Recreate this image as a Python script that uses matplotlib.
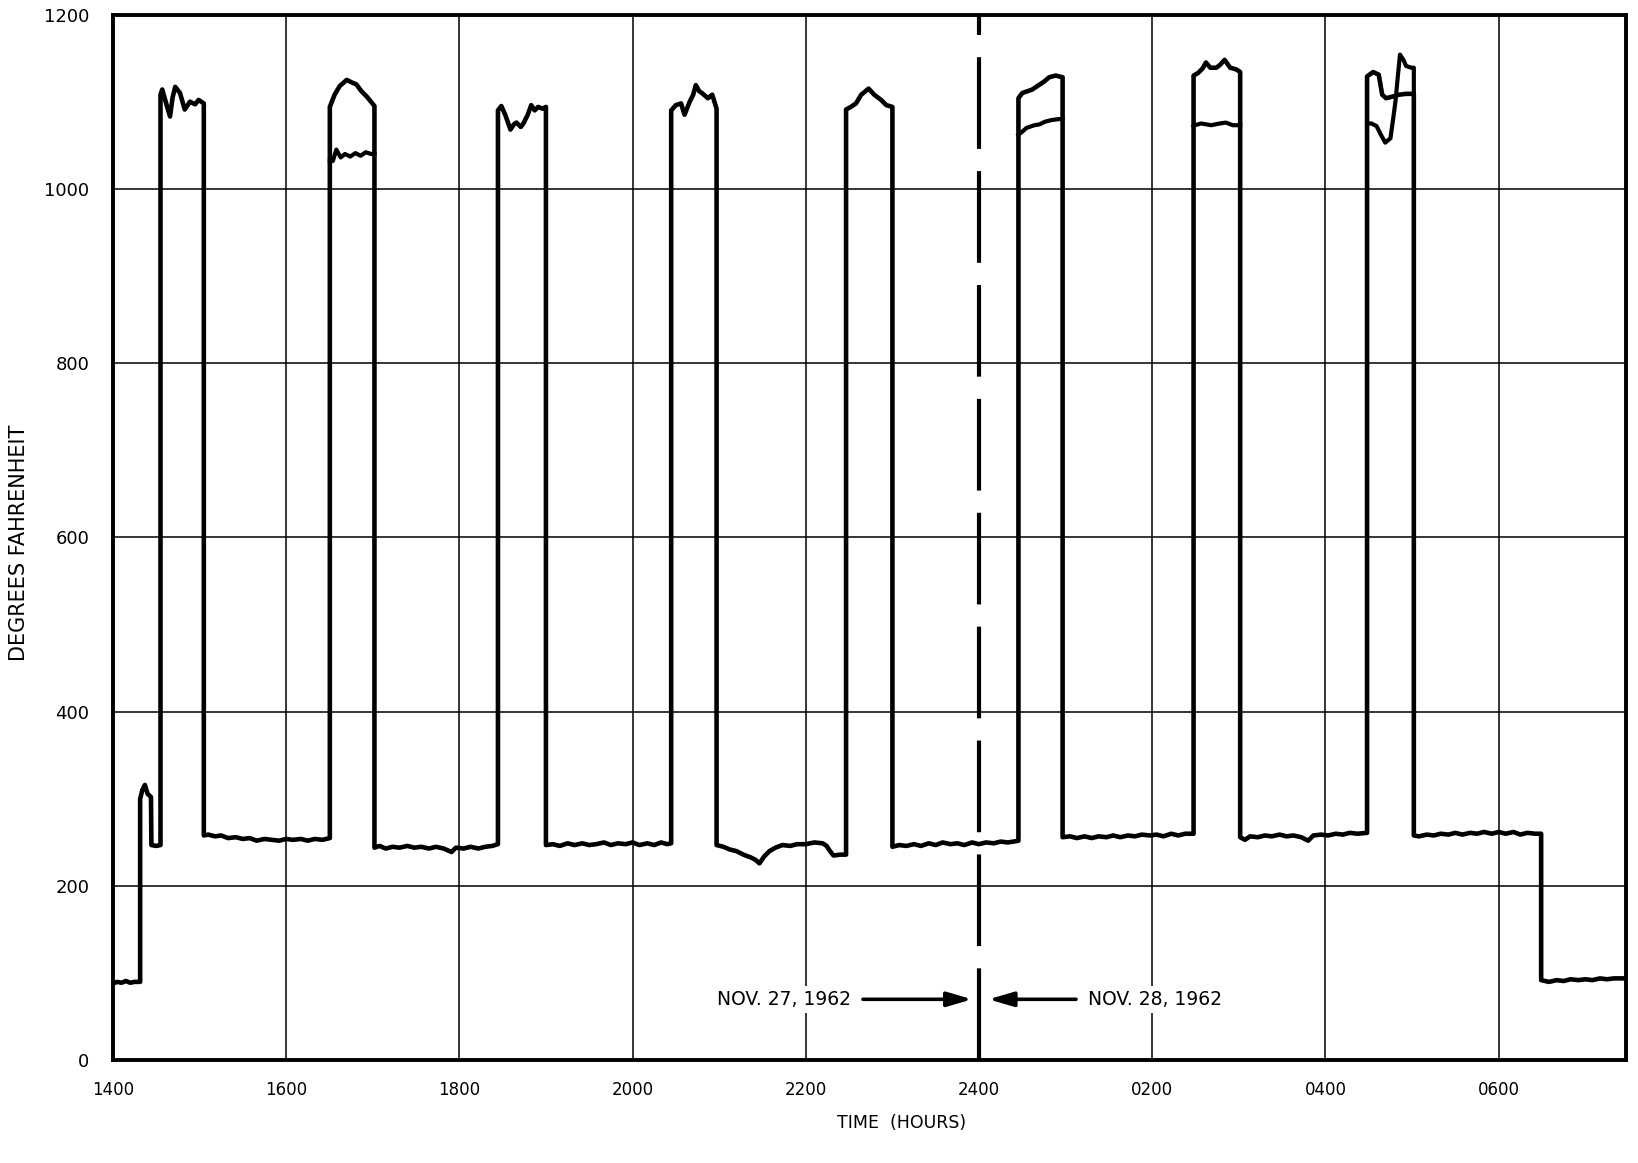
import numpy as np
import matplotlib
matplotlib.use("Agg")
import matplotlib.pyplot as plt

# main trace: hours since midnight Nov 27 (24 = 2400), degrees F
TIME_H = [
    14.00, 14.05, 14.10, 14.15, 14.20, 14.25, 14.315,
    14.315, 14.34, 14.37, 14.40, 14.44, 14.445, 14.50, 14.55,
    14.55, 14.57, 14.61, 14.66, 14.69, 14.72, 14.775, 14.83, 14.89, 14.95, 14.99, 15.05,
    15.05, 15.10, 15.18, 15.25, 15.33, 15.42, 15.50, 15.58, 15.66, 15.75, 15.83, 15.92,
    16.00, 16.08, 16.17, 16.25, 16.33, 16.42, 16.505,
    16.505, 16.56, 16.62, 16.70, 16.76, 16.81, 16.87, 16.93, 16.98, 17.02,
    17.02, 17.08, 17.15, 17.23, 17.31, 17.40, 17.48, 17.56, 17.65, 17.73, 17.82, 17.91,
    17.96, 18.05, 18.13, 18.22, 18.30, 18.38, 18.446,
    18.446, 18.485, 18.53, 18.59, 18.63, 18.66, 18.71, 18.74, 18.79, 18.83, 18.87, 18.91, 18.96, 19.00,
    19.00, 19.08, 19.16, 19.25, 19.33, 19.42, 19.50, 19.58, 19.67, 19.75, 19.83, 19.92,
    20.00, 20.08, 20.17, 20.25, 20.33, 20.40, 20.446,
    20.446, 20.50, 20.56, 20.60, 20.66, 20.70, 20.73, 20.77, 20.80, 20.87, 20.92, 20.97,
    20.97, 21.05, 21.12, 21.20, 21.28, 21.36, 21.42, 21.465, 21.52, 21.58, 21.65, 21.73,
    21.82, 21.90, 22.00, 22.10, 22.195, 22.24, 22.28, 22.32, 22.40, 22.465,
    22.465, 22.52, 22.58, 22.64, 22.725, 22.79, 22.87, 22.93, 23.00,
    23.00, 23.08, 23.16, 23.25, 23.33, 23.42, 23.50, 23.58, 23.67, 23.75, 23.83, 23.92,
    24.00, 24.08, 24.17, 24.25, 24.33, 24.40, 24.455,
    24.455, 24.50, 24.56, 24.615, 24.69, 24.75, 24.81, 24.885, 24.965,
    24.965, 25.05, 25.13, 25.22, 25.30, 25.38, 25.47, 25.55, 25.63, 25.72, 25.80, 25.88,
    25.97, 26.05, 26.13, 26.22, 26.30, 26.38, 26.477,
    26.477, 26.53, 26.58, 26.62, 26.67, 26.74, 26.78, 26.835, 26.90, 26.97, 27.015,
    27.015, 27.07, 27.13, 27.22, 27.30, 27.38, 27.47, 27.55, 27.63, 27.72, 27.80, 27.86,
    27.95, 28.03, 28.12, 28.20, 28.28, 28.37, 28.48,
    28.48, 28.55, 28.615, 28.655, 28.70, 28.78, 28.85, 28.93, 29.02,
    29.02, 29.08, 29.17, 29.25, 29.33, 29.42, 29.50, 29.58, 29.67, 29.75, 29.83, 29.92,
    30.00, 30.08, 30.17, 30.25, 30.33, 30.42, 30.49,
    30.49, 30.58, 30.67, 30.75, 30.83, 30.92, 31.00, 31.08, 31.17, 31.25, 31.33, 31.47,
]
TEMP_F = [
    88, 90, 89, 91, 89, 90, 90,
    300, 310, 316, 306, 302, 247, 246, 247,
    1108, 1114, 1100, 1083, 1105, 1117, 1110, 1091, 1100, 1097, 1102, 1098,
    258, 259, 257, 258, 255, 256, 254, 255, 252, 254, 253, 252,
    254, 253, 254, 252, 254, 253, 255,
    1094, 1108, 1118, 1125, 1122, 1120, 1112, 1106, 1100, 1095,
    244, 246, 243, 245, 244, 246, 244, 245, 243, 245, 243, 239,
    244, 243, 245, 243, 245, 246, 248,
    1090, 1095, 1085, 1068, 1074, 1076, 1071, 1075, 1085, 1096, 1090, 1094, 1092, 1094,
    247, 248, 246, 249, 247, 249, 247, 248, 250, 247, 249, 248,
    250, 247, 249, 247, 250, 248, 249,
    1090, 1096, 1098, 1085, 1100, 1108, 1119, 1112, 1110, 1104, 1108, 1092,
    247, 245, 242, 240, 236, 233, 230, 226, 234, 240, 244, 247,
    246, 248, 248, 250, 249, 246, 240, 235, 236, 236,
    1091, 1094, 1098, 1108, 1115, 1108, 1102, 1096, 1094,
    245, 247, 246, 248, 246, 249, 247, 250, 248, 249, 247, 250,
    248, 250, 249, 251, 250, 251, 252,
    1104, 1110, 1112, 1114, 1119, 1123, 1128, 1130, 1128,
    256, 257, 255, 257, 255, 257, 256, 258, 256, 258, 257, 259,
    258, 259, 257, 260, 258, 260, 260,
    1130, 1133, 1138, 1145, 1139, 1139, 1142, 1148, 1139, 1137, 1134,
    256, 253, 257, 256, 258, 257, 259, 257, 258, 256, 252, 258,
    259, 258, 260, 259, 261, 260, 261,
    1129, 1134, 1131, 1108, 1104, 1106, 1108, 1109, 1109,
    258, 257, 259, 258, 260, 259, 261, 259, 261, 260, 262, 260,
    262, 260, 262, 259, 261, 260, 260,
    92, 90, 92, 91, 93, 92, 93, 92, 94, 93, 94, 94,
]

# second thermocouple where it separates from the first (nan = gap)
SEC_TIME_H = [
    16.505, 16.54, 16.58, 16.63, 16.68, 16.74, 16.80, 16.86, 16.92, 16.98, 17.02, np.nan,
    24.455, 24.48, 24.55, 24.64, 24.70, 24.76, 24.84, 24.92, 24.965, np.nan,
    26.477, 26.49, 26.565, 26.68, 26.78, 26.85, 26.93, 27.015, np.nan,
    28.48, 28.53, 28.59, 28.64, 28.69, 28.75, 28.785, 28.81, 28.835, 28.86, 28.90, 28.93,
    28.99, 29.02, 29.02,
]
SEC_TEMP_F = [
    1032, 1032, 1045, 1036, 1040, 1037, 1041, 1038, 1042, 1040, 1040, np.nan,
    1062, 1064, 1070, 1073, 1074, 1077, 1079, 1080, 1080, np.nan,
    1072, 1073, 1075, 1073, 1075, 1076, 1073, 1073, np.nan,
    1075, 1075, 1072, 1062, 1053, 1058, 1083, 1102, 1129, 1154, 1148, 1141,
    1139, 1139, 1109,
]

X_TICKS = [14, 16, 18, 20, 22, 24, 26, 28, 30]
X_TICK_LABELS = ["1400", "1600", "1800", "2000", "2200", "2400", "0200", "0400", "0600"]
Y_TICKS = [0, 200, 400, 600, 800, 1000, 1200]
MIDNIGHT = 24

plt.rcParams['font.family'] = ['DejaVu Sans']
plt.rcParams['lines.scale_dashes'] = False

fig = plt.figure(figsize=(16.38, 11.63), dpi=100)
ax = fig.add_axes([0.0689, 0.0883, 0.9238, 0.8992])

# grid
for x in X_TICKS[1:]:
    if x != MIDNIGHT:
        ax.axvline(x, color='black', lw=1.1, zorder=1)
for y in Y_TICKS[1:-1]:
    ax.axhline(y, color='black', lw=1.1, zorder=1)

# midnight dashed line, drawn from the bottom up
ax.plot([MIDNIGHT, MIDNIGHT], [0, 1200], color='black', lw=3.0,
        dashes=(66, 16), solid_capstyle='butt', dash_capstyle='butt', zorder=2)

ax.plot(TIME_H, TEMP_F, color='black', lw=3.3, solid_joinstyle='round', zorder=4)
ax.plot(SEC_TIME_H, SEC_TEMP_F, color='black', lw=3.0, solid_joinstyle='round', zorder=4)

# date annotations
txt_kw = dict(fontsize=13.5, va='center', zorder=5,
              bbox=dict(facecolor='white', edgecolor='none', pad=3))
ax.text(22.52, 70, "NOV. 27, 1962", ha='right', **txt_kw)
ax.text(25.26, 70, "NOV. 28, 1962", ha='left', **txt_kw)
arrow = dict(arrowstyle='-|>,head_length=0.75,head_width=0.22', color='black',
             lw=2.6, mutation_scale=20, shrinkA=0, shrinkB=0)
ax.annotate("", xy=(23.92, 70), xytext=(22.66, 70), arrowprops=arrow, zorder=5)
ax.annotate("", xy=(24.11, 70), xytext=(25.12, 70), arrowprops=arrow, zorder=5)

ax.set_xlim(14, 31.47)
ax.set_ylim(0, 1200)
ax.set_xticks(X_TICKS)
ax.set_xticklabels(X_TICK_LABELS)
ax.set_yticks(Y_TICKS)
ax.tick_params(axis='both', length=0, labelsize=12)
ax.tick_params(axis='y', labelsize=13)
ax.tick_params(axis='x', pad=15)
ax.tick_params(axis='y', pad=17)
for s in ax.spines.values():
    s.set_linewidth(2.8)

fig.text(0.5502, 0.0341, "TIME  (HOURS)", ha='center', va='center', fontsize=12.5)
fig.text(0.0115, 0.533, "DEGREES FAHRENHEIT", ha='center', va='center',
         rotation=90, fontsize=15)

fig.savefig("out.png", dpi=100)
